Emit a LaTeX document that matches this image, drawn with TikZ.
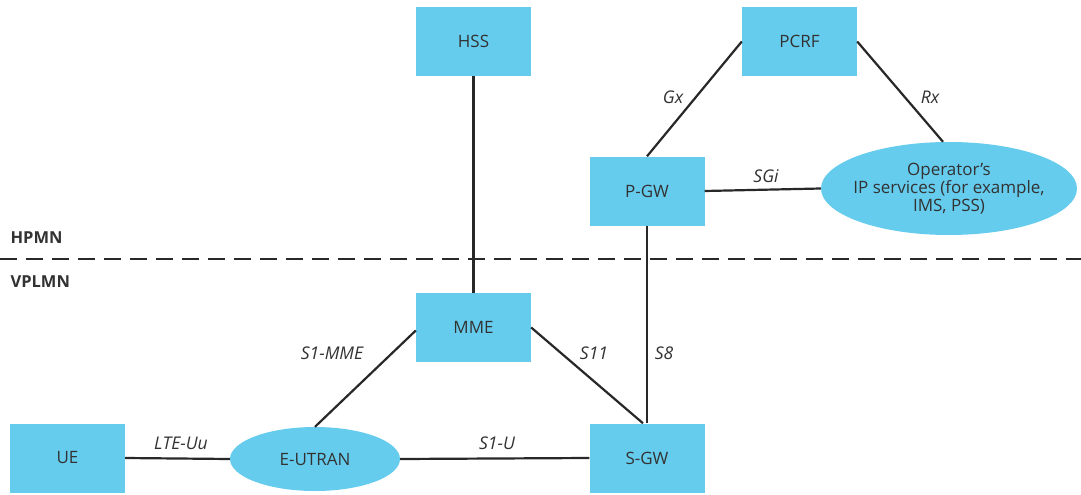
\documentclass[tikz,border=0pt]{standalone}
\usepackage{fontspec}
\setmainfont{Open Sans}
\usetikzlibrary{shapes.geometric}
\definecolor{boxblue}{RGB}{102,204,238}
\definecolor{txt}{RGB}{50,50,50}
\definecolor{ln}{RGB}{40,40,40}
\begin{document}
\begin{tikzpicture}[x=1pt,y=-1pt,
  every node/.style={text=txt,font=\fontsize{17}{20}\selectfont},
  blk/.style={fill=boxblue,draw=none,minimum width=115pt,minimum height=69pt,inner sep=0pt},
  ell/.style={ellipse,fill=boxblue,draw=none,inner sep=0pt},
  conn/.style={draw=ln,line width=2.2pt},
  lab/.style={font=\fontsize{17.5}{20}\selectfont\itshape},
  zone/.style={font=\fontsize{16.5}{20}\selectfont\bfseries,anchor=west}]
\useasboundingbox[fill=white] (0,0) rectangle (1081,495);
\node[blk] (hss) at (473.5,41.5) {HSS};
\node[blk] (pcrf) at (799.5,41.5) {PCRF};
\node[blk] (pgw) at (647,191) {P-GW};
\node[ell,inner xsep=-12pt,inner ysep=0pt,minimum width=256pt,minimum height=93pt,align=center] (ops) at (949,188.5) {Operator’s\\[-2pt]IP services (for example,\\[-2pt]IMS, PSS)};
\node[blk] (mme) at (473.5,327.5) {MME};
\node[blk] (sgw) at (647,458) {S-GW};
\node[blk] (ue) at (67.5,458) {UE};
\node[ell,minimum width=170pt,minimum height=64pt] (eutran) at (315,459) {E-UTRAN};
\node[zone] (hpmn) at (7,238) {HPMN};
\node[zone] (vplmn) at (7,282) {VPLMN};
\coordinate (dl) at (0,259);
\coordinate (dr) at (1081,259);
\draw[draw=ln,line width=1.4pt,dash pattern=on 17pt off 9pt] (dl) -- (dr);
\draw[conn] (hss.south) -- (mme.north);
\draw[conn] (pgw.north) -- (pcrf.west);
\draw[conn] (pcrf.east) -- ([xshift=-6pt]ops.north);
\draw[conn] (pgw.east) -- (ops.west);
\draw[conn] (pgw.south) -- (sgw.north);
\draw[conn] (mme.east) -- ([xshift=-4pt]sgw.north);
\draw[conn] (eutran.north) -- ([yshift=-3pt]mme.west);
\draw[conn] (ue.east) -- (eutran.west);
\draw[conn] (eutran.east) -- (sgw.west);
\node[lab] (gx) at (673,97) {Gx};
\node[lab] (rx) at (930,97) {Rx};
\node[lab] (sgi) at (766,176) {SGi};
\node[lab] (s1mme) at (332,353) {S1-MME};
\node[lab] (s11) at (594,353) {S11};
\node[lab] (s8) at (664,353) {S8};
\node[lab] (lteuu) at (181,443) {LTE-Uu};
\node[lab] (s1u) at (497,443) {S1-U};
\end{tikzpicture}
\end{document}
